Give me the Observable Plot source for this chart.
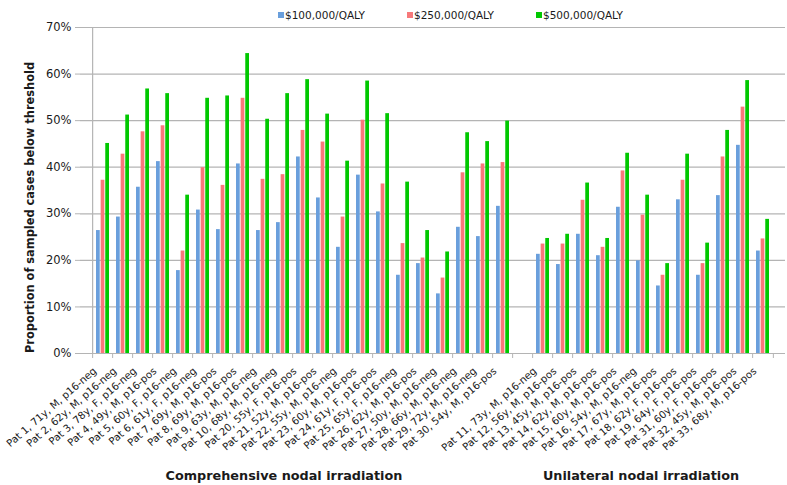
<!DOCTYPE html>
<html>
<head>
<meta charset="utf-8">
<script src="https://cdn.jsdelivr.net/npm/d3@7"></script>
<script src="https://cdn.jsdelivr.net/npm/@observablehq/plot@0.6"></script>
<style>
  html, body { margin: 0; padding: 0; background: #fff; }
  #wrap { position: relative; width: 787px; height: 485px; font-family: "DejaVu Sans", Verdana, sans-serif; }
  #legend { position: absolute; top: 9px; left: 278px; display: flex; font-size: 10.5px; color: #1a1a1a; }
  .item { display: flex; align-items: center; width: 129px; white-space: nowrap; }
  .sw { width: 6px; height: 6px; margin-right: 1px; }
</style>
</head>
<body>
<div id="wrap"><div id="legend"></div></div>
<script>
// ---- data ----
const comprehensive = [
  "Pat 1, 71y, M, p16-neg", "Pat 2, 62y, M, p16-neg", "Pat 3, 78y, F, p16-neg", "Pat 4, 49y, M, p16-pos",
  "Pat 5, 60y, F, p16-neg", "Pat 6, 61y, F, p16-neg", "Pat 7, 69y, M, p16-pos", "Pat 8, 69y, M, p16-pos",
  "Pat 9, 63y, M, p16-neg", "Pat 10, 68y, M, p16-neg", "Pat 20, 55y, F, p16-pos", "Pat 21, 52y, M, p16-pos",
  "Pat 22, 55y, M, p16-neg", "Pat 23, 60y, M, p16-pos", "Pat 24, 61y, F, p16-pos", "Pat 25, 65y, F, p16-neg",
  "Pat 26, 62y, M, p16-pos", "Pat 27, 50y, M, p16-neg", "Pat 28, 66y, M, p16-neg", "Pat 29, 72y, M, p16-neg",
  "Pat 30, 54y, M, p16-pos"
];
const unilateral = [
  "Pat 11, 73y, M, p16-neg", "Pat 12, 56y, M, p16-pos", "Pat 13, 45y, M, p16-pos", "Pat 14, 62y, M, p16-pos",
  "Pat 15, 60y, M, p16-pos", "Pat 16, 54y, M, p16-neg", "Pat 17, 67y, M, p16-pos", "Pat 18, 62y, F, p16-pos",
  "Pat 19, 64y, F, p16-pos", "Pat 31, 60y, F, p16-pos", "Pat 32, 45y, M, p16-pos", "Pat 33, 68y, M, p16-pos"
];
const seriesNames = ["$100,000/QALY", "$250,000/QALY", "$500,000/QALY"];
const seriesColors = ["#6a9fdc", "#f7797a", "#00c800"];
// values in percent, same order as comprehensive then unilateral
const v100 = [26.4, 29.3, 35.7, 41.2, 17.8, 30.8, 26.6, 40.7, 26.4, 28.1, 42.2, 33.4, 22.8, 38.3, 30.4, 16.8, 19.3, 12.8, 27.1, 25.1, 31.6,
              21.3, 19.1, 25.6, 21.0, 31.4, 19.9, 14.5, 33.0, 16.8, 33.9, 44.7, 22.0];
const v250 = [37.2, 42.8, 47.6, 48.9, 22.0, 39.9, 36.1, 54.8, 37.4, 38.4, 47.9, 45.4, 29.3, 50.1, 36.4, 23.6, 20.5, 16.2, 38.8, 40.7, 41.0,
              23.5, 23.5, 32.9, 22.8, 39.2, 29.7, 16.8, 37.2, 19.3, 42.2, 52.9, 24.6];
const v500 = [45.1, 51.2, 56.8, 55.8, 34.0, 54.8, 55.3, 64.4, 50.3, 55.8, 58.8, 51.4, 41.3, 58.5, 51.5, 36.8, 26.4, 21.8, 47.4, 45.5, 49.9,
              24.7, 25.6, 36.6, 24.7, 43.0, 34.0, 19.3, 42.8, 23.7, 47.9, 58.6, 28.8];
const yTicks = [0, 0.1, 0.2, 0.3, 0.4, 0.5, 0.6, 0.7];
const yTitle = "Proportion of sampled cases below threshold";
const groupNames = ["Comprehensive nodal irradiation", "Unilateral nodal irradiation"];

// ---- build ----
const patients = [...comprehensive, ...unilateral];
const slots = [...comprehensive, " ", ...unilateral];
const valueSets = [v100, v250, v500];
const rows = [];
patients.forEach((p, i) => seriesNames.forEach((s, k) => rows.push({patient: p, series: s, value: valueSets[k][i] / 100})));

const W = 787, H = 485, ML = 80, MR = 2, MT = 27, MB = 132;
const PI = 0.33, PO = PI / 2;
const xs = Plot.scale({x: {type: "band", domain: slots, range: [ML, W - MR], paddingInner: PI, paddingOuter: PO}});
const bw = xs.bandwidth, step = xs.step;
const grid = "#b4b4b4";

const chart = Plot.plot({
  width: W, height: H,
  marginLeft: ML, marginRight: MR, marginTop: MT, marginBottom: MB,
  style: {fontFamily: "DejaVu Sans, Verdana, sans-serif", background: "white", color: "#1a1a1a", overflow: "visible"},
  x: {type: "band", domain: slots, paddingInner: PI, paddingOuter: PO, axis: null},
  y: {domain: [0, 0.7], axis: null},
  marks: [
    Plot.ruleY(yTicks, {stroke: grid, strokeWidth: 1.2}),
    ...seriesNames.map((s, k) => Plot.barY(rows.filter(r => r.series === s), {
      x: "patient", y: "value", fill: seriesColors[k],
      insetLeft: k * bw / 3, insetRight: (2 - k) * bw / 3
    })),
    // y axis line
    Plot.ruleX([slots[0]], {dx: -step / 2, stroke: grid, strokeWidth: 1.2}),
    // category boundary ticks
    Plot.ruleX(slots, {dx: -step / 2, y1: 0, y2: 0, insetBottom: -5, stroke: grid}),
    Plot.ruleX([slots[slots.length - 1]], {dx: step / 2, y1: 0, y2: 0, insetBottom: -5, stroke: grid}),
    Plot.axisY(yTicks, {tickFormat: d3.format(".0%"), tickSize: 5, tickPadding: 4, stroke: grid, fontSize: 11.5, label: null}),
    Plot.axisX({tickRotate: -41, tickSize: 0, tickPadding: 16, dx: -8, fontSize: 10.2, label: null}),
    Plot.text([yTitle], {text: d => d, frameAnchor: "left", textAnchor: "middle", rotate: -90, dx: -50, dy: 17, fontWeight: "bold", fontSize: 11.4}),
    Plot.text([{p: comprehensive[9], t: groupNames[0]}], {x: "p", text: "t", frameAnchor: "bottom", textAnchor: "middle", dy: 126, dx: 1, fontWeight: "bold", fontSize: 12.8}),
    Plot.text([{p: unilateral[5], t: groupNames[1]}], {x: "p", text: "t", frameAnchor: "bottom", textAnchor: "middle", dy: 126, dx: -2, fontWeight: "bold", fontSize: 12.8})
  ]
});
const wrap = document.getElementById("wrap");
wrap.insertBefore(chart, wrap.firstChild);

const legend = document.getElementById("legend");
seriesNames.forEach((s, k) => {
  const it = document.createElement("div"); it.className = "item";
  const sw = document.createElement("span"); sw.className = "sw"; sw.style.background = seriesColors[k];
  const t = document.createElement("span"); t.textContent = s;
  it.appendChild(sw); it.appendChild(t); legend.appendChild(it);
});
</script>
</body>
</html>
